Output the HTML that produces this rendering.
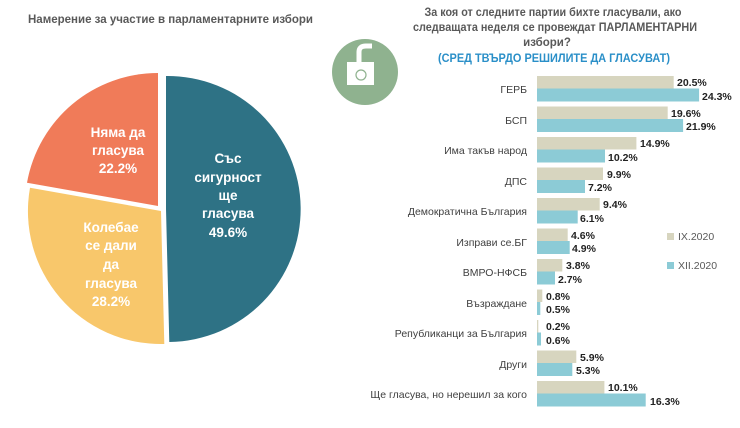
<!DOCTYPE html>
<html><head><meta charset="utf-8"><style>
body{margin:0;background:#fff;width:740px;height:423px;overflow:hidden}
text{font-family:"Liberation Sans",sans-serif}
</style></head><body>
<svg width="740" height="423" viewBox="0 0 740 423" xmlns="http://www.w3.org/2000/svg">
<text x="28" y="23" font-size="12" font-weight="bold" fill="#595959" textLength="285" lengthAdjust="spacingAndGlyphs">Намерение за участие в парламентарните избори</text>
<path d="M166,209 L166,76 A133,133 0 0 1 169.3,342 Z" fill="#2e7285"/>
<path d="M161,211 L164.3,344 A133,133 0 0 1 30,187.7 Z" fill="#f8c76b"/>
<path d="M158,206 L27,182.7 A133,133 0 0 1 158,73 Z" fill="#f07b59"/>
<g fill="#fff" font-size="13.5" font-weight="bold" text-anchor="middle">
<text x="228" y="163">Със</text><text x="228" y="182">сигурност</text><text x="228" y="200">ще</text><text x="228" y="218">гласува</text><text x="228" y="237">49.6%</text>
<text x="118" y="137">Няма да</text><text x="118" y="155">гласува</text><text x="118" y="173">22.2%</text>
<text x="111" y="232">Колебае</text><text x="111" y="250">се дали</text><text x="111" y="269">да</text><text x="111" y="288">гласува</text><text x="111" y="306">28.2%</text>
</g>
<circle cx="365" cy="72" r="33" fill="#8fb28f"/>
<rect x="347" y="62" width="27" height="23" fill="#fff"/>
<path d="M359,62 L359,52 Q359,46 366,46 L372,46" stroke="#fff" stroke-width="5" fill="none"/>
<circle cx="361" cy="75" r="5" fill="none" stroke="#8fb28f" stroke-width="1.2"/>
<g font-size="11.5" font-weight="bold" fill="#595959" text-anchor="middle">
<text x="553" y="16" textLength="257" lengthAdjust="spacingAndGlyphs">За коя от следните партии бихте гласували, ако</text>
<text x="555" y="31" textLength="284" lengthAdjust="spacingAndGlyphs">следващата неделя се провеждат ПАРЛАМЕНТАРНИ</text>
<text x="547" y="46">избори?</text>
</g>
<text x="554" y="62" font-size="12" font-weight="bold" fill="#2a8fc8" text-anchor="middle" textLength="232" lengthAdjust="spacingAndGlyphs">(СРЕД ТВЪРДО РЕШИЛИТЕ ДА ГЛАСУВАТ)</text>
<rect x="667" y="233" width="7" height="7" fill="#d7d5bf"/>
<text x="678" y="240" font-size="10.5" fill="#595959">IX.2020</text>
<rect x="667" y="262" width="7" height="7" fill="#8ccbd6"/>
<text x="678" y="269" font-size="10.5" fill="#595959">XII.2020</text>
<g font-size="10.5" fill="#404040" text-anchor="end">
<text x="527" y="93">ГЕРБ</text><text x="527" y="124">БСП</text><text x="527" y="154">Има такъв народ</text><text x="527" y="185">ДПС</text><text x="527" y="215">Демократична България</text><text x="527" y="246">Изправи се.БГ</text><text x="527" y="276">ВМРО-НФСБ</text><text x="527" y="307">Възраждане</text><text x="527" y="337">Републиканци за България</text><text x="527" y="368">Други</text><text x="527" y="398">Ще гласува, но нерешил за кого</text>
</g>
<g>
<rect x="537" y="76" width="136.7" height="12.5" fill="#d7d5bf"/><rect x="537" y="88.5" width="162.1" height="13" fill="#8ccbd6"/>
<rect x="537" y="106.5" width="130.7" height="12.5" fill="#d7d5bf"/><rect x="537" y="119" width="146.1" height="13" fill="#8ccbd6"/>
<rect x="537" y="137" width="99.4" height="12.5" fill="#d7d5bf"/><rect x="537" y="149.5" width="68" height="13" fill="#8ccbd6"/>
<rect x="537" y="167.5" width="66" height="12.5" fill="#d7d5bf"/><rect x="537" y="180" width="48" height="13" fill="#8ccbd6"/>
<rect x="537" y="198" width="62.7" height="12.5" fill="#d7d5bf"/><rect x="537" y="210.5" width="40.7" height="13" fill="#8ccbd6"/>
<rect x="537" y="228.5" width="30.7" height="12.5" fill="#d7d5bf"/><rect x="537" y="241" width="32.7" height="13" fill="#8ccbd6"/>
<rect x="537" y="259" width="25.3" height="12.5" fill="#d7d5bf"/><rect x="537" y="271.5" width="18" height="13" fill="#8ccbd6"/>
<rect x="537" y="289.5" width="5.3" height="12.5" fill="#d7d5bf"/><rect x="537" y="302" width="3.3" height="13" fill="#8ccbd6"/>
<rect x="537" y="320" width="1.3" height="12.5" fill="#d7d5bf"/><rect x="537" y="332.5" width="4" height="13" fill="#8ccbd6"/>
<rect x="537" y="350.5" width="39.3" height="12.5" fill="#d7d5bf"/><rect x="537" y="363" width="35.3" height="13" fill="#8ccbd6"/>
<rect x="537" y="381" width="67.4" height="12.5" fill="#d7d5bf"/><rect x="537" y="393.5" width="108.7" height="13" fill="#8ccbd6"/>
</g>
<g font-size="10.5" font-weight="bold" fill="#222">
<text x="677" y="86">20.5%</text><text x="702" y="100">24.3%</text>
<text x="671" y="117">19.6%</text><text x="686" y="130">21.9%</text>
<text x="640" y="147">14.9%</text><text x="608" y="161">10.2%</text>
<text x="607" y="178">9.9%</text><text x="588" y="191">7.2%</text>
<text x="603" y="208">9.4%</text><text x="580" y="222">6.1%</text>
<text x="571" y="239">4.6%</text><text x="572" y="252">4.9%</text>
<text x="566" y="269">3.8%</text><text x="558" y="283">2.7%</text>
<text x="546" y="300">0.8%</text><text x="546" y="313">0.5%</text>
<text x="546" y="330">0.2%</text><text x="546" y="344">0.6%</text>
<text x="580" y="361">5.9%</text><text x="576" y="374">5.3%</text>
<text x="608" y="391">10.1%</text><text x="650" y="405">16.3%</text>
</g>
</svg>
</body></html>
